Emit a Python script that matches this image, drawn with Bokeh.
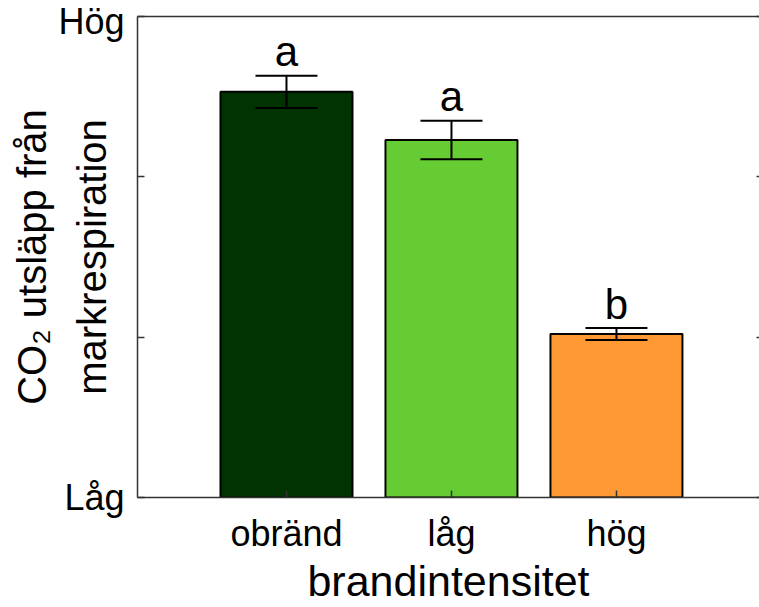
from bokeh.plotting import figure
from bokeh.models import Range1d, FixedTicker, LinearAxis, ColumnDataSource, Whisker, TeeHead
from bokeh.embed import file_html
from bokeh.resources import INLINE
from bokeh.core.properties import value

categories = ["obränd", "låg", "hög"]
means = [2.53, 2.23, 1.02]
errors = [0.10, 0.12, 0.037]
letters = ["a", "a", "b"]
colors = ["#003300", "#66CC33", "#FF9933"]
y_label_ticks = [0, 3]
y_tick_labels = ["Låg", "Hög"]
y_plain_ticks = [1, 2]
x_label = "brandintensitet"
y_label = "CO\u2082 utsläpp från\nmarkrespiration"

FONT = "Liberation Sans"
AXIS_COLOR = "#333333"

xs = [i + 1 for i in range(len(categories))]
src = ColumnDataSource(dict(
    x=xs, top=means,
    upper=[m + e for m, e in zip(means, errors)],
    lower=[m - e for m, e in zip(means, errors)],
    color=colors, letter=letters,
))

p = figure(width=759, height=607, output_backend="svg", toolbar_location=None,
           x_range=Range1d(0.097, 3.867), y_range=Range1d(0, 3),
           min_border_left=137, min_border_right=0, min_border_top=16,
           min_border_bottom=110)
p.grid.visible = False
p.outline_line_color = None
p.background_fill_color = "white"
p.border_fill_color = "white"

p.vbar(x="x", top="top", bottom=0, width=0.8, source=src, fill_color="color",
       line_color="black", line_width=2)

w = Whisker(source=src, base="x", upper="upper", lower="lower",
            line_color="black", line_width=2, level="overlay",
            upper_head=TeeHead(size=62, line_color="black", line_width=2),
            lower_head=TeeHead(size=62, line_color="black", line_width=2))
p.add_layout(w)

p.text(x="x", y="upper", text="letter", source=src, text_align="center",
       text_baseline="alphabetic", text_font=value(FONT), text_font_size="42px",
       text_color="black", y_offset=-24)

def style(ax):
    ax.axis_line_color = AXIS_COLOR
    ax.axis_line_width = 1.5
    ax.major_tick_line_color = AXIS_COLOR
    ax.major_tick_line_width = 1.5
    ax.minor_tick_line_color = AXIS_COLOR
    ax.minor_tick_line_width = 1.5
    ax.major_tick_out = 0
    ax.minor_tick_out = 0
    ax.major_label_text_font = FONT
    ax.major_label_text_color = "black"
    ax.axis_label_text_font = FONT
    ax.axis_label_text_font_style = "normal"
    ax.axis_label_text_color = "black"

xa = p.xaxis[0]
style(xa)
xa.ticker = FixedTicker(ticks=xs)
xa.major_label_overrides = {x: c for x, c in zip(xs, categories)}
xa.major_tick_in = 7
xa.minor_tick_line_color = None
xa.major_label_text_font_size = "36px"
xa.major_label_standoff = 15
xa.axis_label = x_label
xa.axis_label_text_font_size = "43px"
xa.axis_label_standoff = 0

ya = p.yaxis[0]
style(ya)
ya.ticker = FixedTicker(ticks=y_label_ticks, minor_ticks=y_plain_ticks)
ya.major_label_overrides = {v: t for v, t in zip(y_label_ticks, y_tick_labels)}
ya.major_tick_in = 7
ya.minor_tick_in = 7
ya.major_label_text_font_size = "36px"
ya.major_label_standoff = 13
ya.axis_label = y_label
ya.axis_label_text_font_size = "40px"
ya.axis_label_text_line_height = 1.37
ya.axis_label_standoff = -59

ra = LinearAxis(ticker=FixedTicker(ticks=[], minor_ticks=y_label_ticks + y_plain_ticks))
style(ra)
ra.axis_line_color = None
ra.minor_tick_in = 3
ra.major_label_standoff = 0
p.add_layout(ra, "right")

ta = LinearAxis(ticker=FixedTicker(ticks=[]))
style(ta)
ta.major_tick_in = 0
ta.major_label_standoff = 0
p.add_layout(ta, "above")

open("out.html", "w").write(file_html(p, INLINE))
